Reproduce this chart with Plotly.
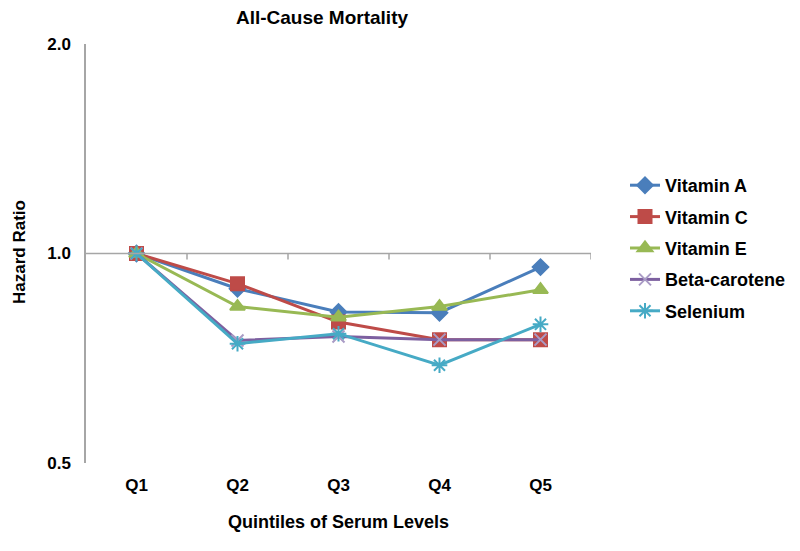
import plotly.graph_objects as go

quintiles = ["Q1", "Q2", "Q3", "Q4", "Q5"]
vitamin_a = [1.0, 0.89, 0.824, 0.822, 0.956]
vitamin_c = [1.0, 0.905, 0.797, 0.752, 0.752]
vitamin_e = [1.0, 0.839, 0.810, 0.839, 0.887]
beta_carotene = [1.0, 0.750, 0.760, 0.752, 0.752]
selenium = [1.0, 0.742, 0.767, 0.691, 0.791]
y_ticks = [0.5, 1.0, 2.0]
y_tick_labels = ["<b>0.5</b>", "<b>1.0</b>", "<b>2.0</b>"]
x_tick_labels = ["<b>Q1</b>", "<b>Q2</b>", "<b>Q3</b>", "<b>Q4</b>", "<b>Q5</b>"]

series = [
    ("Vitamin A", vitamin_a, "#4A7EBB", "diamond", 12, None),
    ("Vitamin C", vitamin_c, "#BE4B48", "square", 13, None),
    ("Vitamin E", vitamin_e, "#98B954", "triangle-up", 13, None),
    ("Beta-carotene", beta_carotene, "#7D60A0", "x-thin-open", 12, "#A99BC5"),
    ("Selenium", selenium, "#46AAC5", "asterisk-open", 13, None),
]

fig = go.Figure()
for i, (name, vals, color, sym, size, mcol) in enumerate(series):
    fig.add_trace(go.Scatter(
        x=quintiles, y=vals, name=f"<b>{name}</b>", mode="lines+markers",
        line=dict(color=color, width=3),
        marker=dict(symbol=sym, size=size, color=mcol or color,
                    line=dict(color=mcol or color, width=2)),
        legendgroup=f"g{i}",
    ))

font = "Liberation Sans, Arial, sans-serif"
gray = "#A6A6A6"

shapes = [dict(type="line", xref="paper", yref="y", x0=0, x1=1, y0=1.0, y1=1.0,
               line=dict(color=gray, width=1.5))]
for b in [0.5, 1.5, 2.5, 3.5, 4.5]:
    shapes.append(dict(type="line", xref="x", yref="y", x0=b, x1=b, y0=1.0, y1=0.98,
                       line=dict(color=gray, width=1.5)))

# page body has an 8px offset; plot area on screen: x 86..591, y 44..463
L, T = 78, 36
PW, PH = 505, 419

fig.update_layout(
    width=800, height=551,
    margin=dict(l=L, r=800 - L - PW, t=T, b=551 - T - PH),
    paper_bgcolor="white", plot_bgcolor="white",
    font=dict(family=font, size=17, color="black"),
    title=dict(text="<b>All-Cause Mortality</b>", x=(322 - 8) / 800, xanchor="center",
               y=1 - 9 / 551, yanchor="middle", font=dict(size=19)),
    xaxis=dict(range=[-0.5, 4.5], showgrid=False, showline=False, ticks="",
               tickvals=[0, 1, 2, 3, 4], ticktext=x_tick_labels,
               ticklabelstandoff=10, tickfont=dict(size=17)),
    yaxis=dict(type="log", range=[-0.30103, 0.30103], tickvals=y_ticks, ticktext=y_tick_labels,
               showgrid=False, showline=True, linecolor=gray, linewidth=1.5,
               ticks="", ticklabelstandoff=10,
               tickfont=dict(size=17)),
    annotations=[
        dict(text="<b>Hazard Ratio</b>", xref="paper", yref="paper",
             x=(11 - L) / PW, y=(463 - 252) / PH, xanchor="center", yanchor="middle",
             textangle=-90, showarrow=False, font=dict(size=17)),
        dict(text="<b>Quintiles of Serum Levels</b>", xref="paper", yref="paper",
             x=(338 - 86) / PW, y=(463 - 522) / PH, xanchor="center", yanchor="middle",
             showarrow=False, font=dict(size=18)),
    ],
    legend=dict(x=(625 - 86) / PW, y=(463 - 167) / PH, xanchor="left", yanchor="top",
                font=dict(size=18), tracegroupgap=5, bgcolor="rgba(0,0,0,0)"),
    shapes=shapes,
)

fig.write_html("out.html")
